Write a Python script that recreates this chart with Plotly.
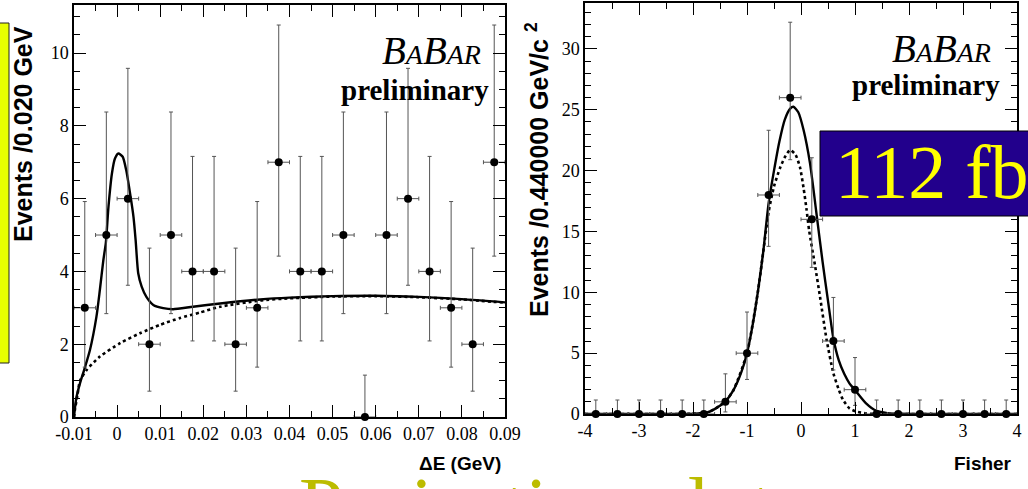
import plotly.graph_objects as go

W, H = 1028, 489

# ---------------- Delta-E projection ----------------
de_centers = [-0.0075, -0.0025, 0.0025, 0.0075, 0.0125, 0.0175, 0.0225, 0.0275, 0.0325, 0.0375,
              0.0425, 0.0475, 0.0525, 0.0575, 0.0625, 0.0675, 0.0725, 0.0775, 0.0825, 0.0875]
de_counts = [3, 5, 6, 2, 5, 4, 4, 2, 3, 7, 4, 4, 5, 0, 5, 6, 4, 3, 2, 7]
de_err_hi = [2.92, 3.38, 3.58, 2.64, 3.38, 3.16, 3.16, 2.64, 2.92, 3.77,
             3.16, 3.16, 3.38, 1.15, 3.38, 3.58, 3.16, 2.92, 2.64, 3.77]
de_err_lo = [1.63, 2.16, 2.38, 1.29, 2.16, 1.91, 1.91, 1.29, 1.63, 2.58,
             1.91, 1.91, 2.16, 0.00, 2.16, 2.38, 1.91, 1.63, 1.29, 2.58]
de_half_bin = 0.0025

# total fit projection
de_fit_x = [-0.01, -0.0095, -0.0086, -0.0075, -0.0063, -0.0048, -0.004, -0.0032, -0.0026, -0.002,
            -0.0012, -0.0005, 0.0003, 0.0013, 0.0021, 0.003, 0.0038, 0.0043, 0.0049, 0.0057,
            0.0068, 0.0084, 0.0107, 0.013, 0.0176, 0.0239, 0.0332, 0.04, 0.05, 0.06, 0.07, 0.08, 0.09]
de_fit_y = [0.0, 0.5, 0.93, 1.35, 1.84, 2.75, 3.49, 4.3, 4.8, 5.78,
            6.69, 7.1, 7.24, 7.15, 6.79, 6.15, 5.5, 4.86, 3.95, 3.58,
            3.3, 3.08, 2.99, 2.96, 3.03, 3.12, 3.23, 3.28, 3.32, 3.33, 3.3, 3.24, 3.15]
# background component
de_bkg_x = [-0.01, -0.0098, -0.0092, -0.0086, -0.007, -0.004, 0.0007, 0.0053, 0.0099, 0.0146,
            0.0192, 0.0239, 0.0332, 0.04, 0.05, 0.06, 0.07, 0.08, 0.09]
de_bkg_y = [0.0, 0.19, 0.6, 1.0, 1.3, 1.66, 2.03, 2.3, 2.53, 2.72,
            2.87, 3.03, 3.2, 3.26, 3.31, 3.32, 3.29, 3.23, 3.14]

de_tick_vals = [-0.01, 0, 0.01, 0.02, 0.03, 0.04, 0.05, 0.06, 0.07, 0.08, 0.09]
de_tick_text = ["-0.01", "0", "0.01", "0.02", "0.03", "0.04", "0.05", "0.06", "0.07", "0.08", "0.09"]
de_ytick_vals = [0, 2, 4, 6, 8, 10]
de_ytick_text = ["0", "2", "4", "6", "8", "10"]

# ---------------- Fisher projection ----------------
fi_centers = [-3.8, -3.4, -3.0, -2.6, -2.2, -1.8, -1.4, -1.0, -0.6, -0.2,
              0.2, 0.6, 1.0, 1.4, 1.8, 2.2, 2.6, 3.0, 3.4, 3.8]
fi_counts = [0, 0, 0, 0, 0, 0, 1, 5, 18, 26, 16, 6, 2, 0, 0, 0, 0, 0, 0, 0]
fi_err_hi = [1.15, 1.15, 1.15, 1.15, 1.15, 1.15, 2.30, 3.38, 5.32, 6.20,
             5.06, 3.58, 2.64, 1.15, 1.15, 1.15, 1.15, 1.15, 1.15, 1.15]
fi_err_lo = [0, 0, 0, 0, 0, 0, 0.83, 2.16, 4.22, 5.10,
             3.95, 2.38, 1.29, 0, 0, 0, 0, 0, 0, 0]
fi_half_bin = 0.2

fi_fit_x = [-4.0, -2.2, -1.9, -1.75, -1.6, -1.41, -1.25, -1.1, -1.0, -0.9, -0.8, -0.7, -0.6,
            -0.5, -0.4, -0.3, -0.2, -0.14, -0.05, 0.05, 0.167, 0.3, 0.4, 0.5, 0.6, 0.7, 0.8,
            0.9, 1.0, 1.2, 1.4, 1.6, 1.8, 4.0]
fi_fit_y = [0.0, 0.0, 0.05, 0.1, 0.4, 1.0, 1.97, 3.5, 5.0, 7.2, 10.0, 13.3, 17.3,
            20.0, 22.4, 24.2, 25.1, 25.25, 24.8, 23.3, 20.6, 16.0, 12.5, 9.3, 6.2, 4.4, 3.3,
            2.5, 1.97, 0.9, 0.25, 0.07, 0.02, 0.0]
fi_comp_x = [-4.0, -2.0, -1.75, -1.6, -1.41, -1.25, -1.0, -0.8, -0.7, -0.6, -0.5, -0.39, -0.3,
             -0.2, -0.1, -0.02, 0.05, 0.1, 0.15, 0.26, 0.352, 0.475, 0.6, 0.7, 0.78, 0.9,
             1.03, 1.2, 1.4, 4.0]
fi_comp_y = [0.0, 0.02, 0.1, 0.4, 1.0, 1.97, 5.0, 10.0, 13.3, 16.6, 18.7, 20.2, 21.1,
             21.7, 21.3, 20.3, 18.5, 16.9, 15.1, 12.2, 9.64, 6.08, 3.34, 2.0, 1.15, 0.45,
             0.19, 0.05, 0.0, 0.0]

fi_tick_vals = [-4, -3, -2, -1, 0, 1, 2, 3, 4]
fi_tick_text = ["-4", "-3", "-2", "-1", "0", "1", "2", "3", "4"]
fi_ytick_vals = [0, 5, 10, 15, 20, 25, 30]
fi_ytick_text = ["0", "5", "10", "15", "20", "25", "30"]


def px(x):
    return x / W


def py(y):
    return 1 - y / H


SERIF = "Liberation Serif, Times New Roman, serif"
SANS = "Liberation Sans, Arial, sans-serif"

fig = go.Figure()


def add_panel(xs, ys, lo, hi, half, fx, fy, cx, cy, xa, ya):
    fig.add_trace(go.Scatter(
        x=cx, y=cy, mode="lines", xaxis=xa, yaxis=ya,
        line=dict(color="black", width=2.6, dash="dot", shape="spline", smoothing=0.6),
        showlegend=False, hoverinfo="skip"))
    fig.add_trace(go.Scatter(
        x=fx, y=fy, mode="lines", xaxis=xa, yaxis=ya,
        line=dict(color="black", width=2.4, shape="spline", smoothing=0.6),
        showlegend=False, hoverinfo="skip"))
    fig.add_trace(go.Scatter(
        x=xs, y=ys, mode="markers", xaxis=xa, yaxis=ya,
        marker=dict(color="black", size=8),
        error_y=dict(type="data", symmetric=False, array=hi, arrayminus=lo,
                     color="#555555", thickness=1, width=2),
        error_x=dict(type="constant", value=half, color="#555555", thickness=1, width=2),
        showlegend=False, cliponaxis=False))


add_panel(de_centers, de_counts, de_err_lo, de_err_hi, de_half_bin,
          de_fit_x, de_fit_y, de_bkg_x, de_bkg_y, "x", "y")
add_panel(fi_centers, fi_counts, fi_err_lo, fi_err_hi, fi_half_bin,
          fi_fit_x, fi_fit_y, fi_comp_x, fi_comp_y, "x2", "y2")


def axis(domain, rng, tickvals, ticktext, minor_dtick, minor_tick0, anchor):
    return dict(
        domain=domain, range=rng, anchor=anchor, automargin=False,
        showline=True, linecolor="black", linewidth=1.5,
        mirror="allticks", ticks="inside", ticklen=12, tickwidth=1, tickcolor="black",
        tickmode="array", tickvals=tickvals, ticktext=ticktext,
        minor=dict(tickmode="linear", tick0=minor_tick0, dtick=minor_dtick,
                   ticks="inside", ticklen=6, tickwidth=1, tickcolor="black"),
        showgrid=False, zeroline=False, fixedrange=True,
        tickfont=dict(family=SERIF, size=18, color="black"))


fig.update_layout(
    width=W, height=H, margin=dict(l=0, r=0, t=0, b=0, autoexpand=False),
    paper_bgcolor="white", plot_bgcolor="white",
    xaxis=axis([px(74), px(505)], [-0.01, 0.09], de_tick_vals, de_tick_text, 0.005, -0.01, "y"),
    yaxis=axis([py(417), py(5)], [0, 11.32], de_ytick_vals, de_ytick_text, 0.5, 0, "x"),
    xaxis2=axis([px(585), px(1017)], [-4, 4], fi_tick_vals, fi_tick_text, 0.5, -4, "y2"),
    yaxis2=axis([py(414), py(3)], [0, 33.78], fi_ytick_vals, fi_ytick_text, 1, 0, "x2"),
)

shapes = [
    # yellow side panel of the slide
    dict(type="rect", xref="paper", yref="paper", x0=px(-3), x1=px(9), y0=py(363), y1=py(23),
         fillcolor="#e8ff00", line=dict(color="#222222", width=1), layer="above"),
    # luminosity banner
    dict(type="rect", xref="paper", yref="paper", x0=px(820), x1=px(1040), y0=py(216), y1=py(131),
         fillcolor="#22008c", line=dict(color="black", width=1), layer="above"),
]
fig.update_layout(shapes=shapes)


def text(t, x, y, size, family=SANS, color="black", xanchor="center", angle=0):
    fig.add_annotation(text=t, xref="paper", yref="paper", x=px(x), y=py(y),
                       xanchor=xanchor, yanchor="middle", showarrow=False, textangle=angle,
                       borderpad=0, font=dict(family=family, size=size, color=color))


babar = "<i>B<span style='font-size:28px'>A</span>B<span style='font-size:28px'>AR</span></i>"
text(babar, 482, 50, 39, SERIF, xanchor="right")
text("<b>preliminary</b>", 490, 90, 29, SERIF, xanchor="right")
text(babar, 992, 49, 39, SERIF, xanchor="right")
text("<b>preliminary</b>", 1001, 85, 29, SERIF, xanchor="right")

text("<b>Events /0.020 GeV</b>", 23, 134, 25, SANS, angle=-90)
text("<b>Events /0.440000 GeV/c <sup>2</sup></b>", 537, 170, 25, SANS, angle=-90)
text("<b>ΔE (GeV)</b>", 502, 463, 19, SANS, xanchor="right")
text("<b>Fisher</b>", 1013, 463, 19, SANS, xanchor="right")

text("112 fb", 834, 172, 76, SERIF, color="#ffff00", xanchor="left")
text("Projection plots", 298, 506, 80, SERIF, color="#bcbc00", xanchor="left")

fig.write_html("out.html")
